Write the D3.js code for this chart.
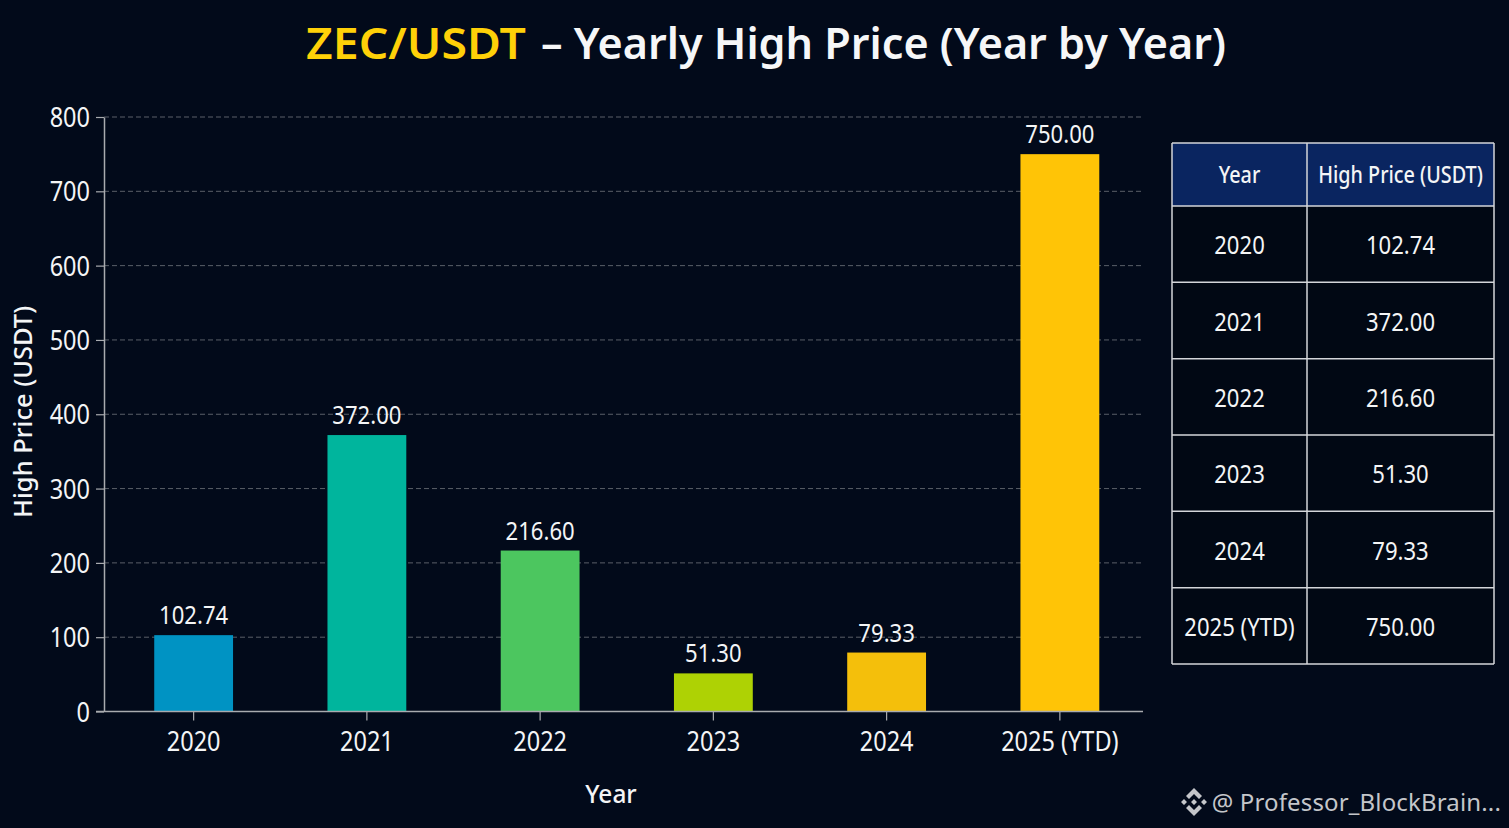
<!DOCTYPE html>
<html>
<head>
<meta charset="utf-8">
<script src="https://cdn.jsdelivr.net/npm/d3@7"></script>
<style>
  html, body { margin: 0; padding: 0; background: #020a1a; }
  svg { display: block; }
  text { font-family: "Noto Sans", sans-serif; fill: #f4f5f6; }
</style>
</head>
<body>
<svg id="chart" width="1509" height="828"></svg>
<script>
const years = ['2020', '2021', '2022', '2023', '2024', '2025 (YTD)'];
const highs = [102.74, 372.00, 216.60, 51.30, 79.33, 750.00];
const barColors = ['#0093c3', '#00b59d', '#4cc65f', '#aed204', '#f4bf0b', '#ffc406'];
const yTicks = [0, 100, 200, 300, 400, 500, 600, 700, 800];
const tableHeader = ['Year', 'High Price (USDT)'];

const margin = { top: 117, right: 366, bottom: 117, left: 104 };
const width = 1509;
const height = 828;
const plotRight = width - margin.right;

const svg = d3.select('#chart');

svg.append('rect')
    .attr('width', width)
    .attr('height', height)
    .attr('fill', '#020a1a');

const x = d3.scaleBand()
    .domain(years)
    .range([margin.left + 0.5, plotRight + 6])
    .paddingInner(0.545)
    .paddingOuter(0.287);

const y = d3.scaleLinear()
    .domain([0, 800])
    .range([height - margin.bottom + 0.5, margin.top]);

// squeeze text a bit, the reference font is narrower than Noto Sans
const squeeze = (sel, k) => sel.each(function () {
    const len = this.getComputedTextLength();
    d3.select(this)
        .attr('textLength', len * k)
        .attr('lengthAdjust', 'spacingAndGlyphs');
});

// Grid
svg.append('g')
    .selectAll('line')
    .data(yTicks.slice(1))
    .join('line')
    .attr('x1', margin.left)
    .attr('x2', plotRight)
    .attr('y1', d => y(d))
    .attr('y2', d => y(d))
    .attr('stroke', '#5a5f68')
    .attr('stroke-width', 1)
    .attr('stroke-dasharray', '5 3');

// Bars
svg.append('g')
    .selectAll('rect')
    .data(years)
    .join('rect')
    .attr('x', d => x(d))
    .attr('y', (d, i) => y(highs[i]))
    .attr('width', x.bandwidth())
    .attr('height', (d, i) => y(0) - y(highs[i]))
    .attr('fill', (d, i) => barColors[i]);

// Value labels
svg.append('g')
    .selectAll('text')
    .data(years)
    .join('text')
    .attr('x', d => x(d) + x.bandwidth() / 2)
    .attr('y', (d, i) => y(highs[i]) - 11)
    .attr('text-anchor', 'middle')
    .attr('font-size', 26)
    .text((d, i) => highs[i].toFixed(2))
    .call(squeeze, 0.85);

// Axes
const yAxis = d3.axisLeft(y).tickValues(yTicks).tickSize(8).tickPadding(6).tickSizeOuter(0);
const xAxis = d3.axisBottom(x).tickSize(9).tickPadding(11).tickSizeOuter(0);

const yG = svg.append('g')
    .attr('transform', `translate(${margin.left},0)`)
    .call(yAxis);

const xG = svg.append('g')
    .attr('transform', `translate(0,${y(0)})`)
    .call(xAxis);

xG.select('.domain').remove();
xG.append('line')
    .attr('class', 'base')
    .attr('x1', margin.left - 8)
    .attr('x2', plotRight)
    .attr('stroke', '#a9abaf')
    .attr('stroke-width', 1.5);

svg.selectAll('.domain').attr('stroke', '#a9abaf').attr('stroke-width', 1.5);
svg.selectAll('.tick line').attr('stroke', '#a9abaf').attr('stroke-width', 1.2);
svg.selectAll('.tick text')
    .attr('font-size', 27)
    .attr('font-family', '"Noto Sans", sans-serif')
    .attr('fill', '#f4f5f6')
    .call(squeeze, 0.87);
yG.selectAll('.tick text').attr('y', 1);

// Axis titles
svg.append('text')
    .attr('transform', 'translate(32,412) rotate(-90)')
    .attr('text-anchor', 'middle')
    .attr('font-size', 26)
    .attr('font-weight', 500)
    .text('High Price (USDT)')
    .call(squeeze, 0.98);

svg.append('text')
    .attr('x', 611)
    .attr('y', 803)
    .attr('text-anchor', 'middle')
    .attr('font-size', 26)
    .attr('font-weight', 500)
    .text('Year')
    .call(squeeze, 0.94);

// Title, two parts so each one can be fitted to the reference
svg.append('text')
    .attr('x', 306)
    .attr('y', 59)
    .attr('font-size', 44)
    .attr('font-weight', 600)
    .style('fill', '#ffd108')
    .text('ZEC/USDT')
    .call(squeeze, 1.055);

svg.append('text')
    .attr('x', 1226)
    .attr('y', 59)
    .attr('text-anchor', 'end')
    .attr('font-size', 44)
    .attr('font-weight', 600)
    .style('fill', '#f6f7f8')
    .text('– Yearly High Price (Year by Year)')
    .call(squeeze, 0.98);

// Table
const colX = d3.scaleOrdinal().domain([0, 1, 2]).range([1172, 1307, 1494]);
const headTop = 143;
const headBottom = 206;
const tableBottom = 664;
const rowY = d3.scaleBand().domain(years).range([headBottom, tableBottom]);
const table = svg.append('g');
const tableLine = '#d4d6da';

table.append('rect')
    .attr('x', colX(0))
    .attr('y', headTop)
    .attr('width', colX(2) - colX(0))
    .attr('height', headBottom - headTop)
    .attr('fill', '#0a2560');

table.append('rect')
    .attr('x', colX(0))
    .attr('y', headBottom)
    .attr('width', colX(2) - colX(0))
    .attr('height', tableBottom - headBottom)
    .attr('fill', '#010814');

table.selectAll('.hline')
    .data([headTop, headBottom].concat(years.map(d => rowY(d) + rowY.bandwidth())))
    .join('line')
    .attr('class', 'hline')
    .attr('x1', colX(0))
    .attr('x2', colX(2))
    .attr('y1', d => d)
    .attr('y2', d => d)
    .attr('stroke', tableLine)
    .attr('stroke-width', 1.5);

table.selectAll('.vline')
    .data([0, 1, 2])
    .join('line')
    .attr('class', 'vline')
    .attr('x1', d => colX(d))
    .attr('x2', d => colX(d))
    .attr('y1', headTop)
    .attr('y2', tableBottom)
    .attr('stroke', tableLine)
    .attr('stroke-width', 1.5);

const colMid = i => (colX(i) + colX(i + 1)) / 2;

table.selectAll('.head')
    .data(tableHeader)
    .join('text')
    .attr('class', 'head')
    .attr('x', (d, i) => colMid(i))
    .attr('y', (headTop + headBottom) / 2 + 8)
    .attr('text-anchor', 'middle')
    .attr('font-size', 23)
    .attr('font-weight', 500)
    .text(d => d)
    .call(squeeze, 0.86);

table.selectAll('.year')
    .data(years)
    .join('text')
    .attr('class', 'year')
    .attr('x', colMid(0))
    .attr('y', d => rowY(d) + rowY.bandwidth() / 2 + 10)
    .attr('text-anchor', 'middle')
    .attr('font-size', 26)
    .text(d => d)
    .call(squeeze, 0.85);

table.selectAll('.price')
    .data(years)
    .join('text')
    .attr('class', 'price')
    .attr('x', colMid(1))
    .attr('y', d => rowY(d) + rowY.bandwidth() / 2 + 10)
    .attr('text-anchor', 'middle')
    .attr('font-size', 26)
    .text((d, i) => highs[i].toFixed(2))
    .call(squeeze, 0.85);

// Watermark
const mark = svg.append('g').attr('transform', 'translate(1194,802)').attr('fill', '#c4c6ca');
mark.append('path')
    .attr('d', 'M0,-14 L8,-6 L5,-3 L0,-8 L-5,-3 L-8,-6 Z M0,14 L8,6 L5,3 L0,8 L-5,3 L-8,6 Z M-10,-3 L-7,0 L-10,3 L-13,0 Z M10,-3 L13,0 L10,3 L7,0 Z M0,-3 L3,0 L0,3 L-3,0 Z');

svg.append('text')
    .attr('x', 1501)
    .attr('y', 811)
    .attr('text-anchor', 'end')
    .attr('font-size', 24)
    .attr('letter-spacing', 0.15)
    .style('fill', '#c4c6ca')
    .text('@ Professor_BlockBrain...');
</script>
</body>
</html>
